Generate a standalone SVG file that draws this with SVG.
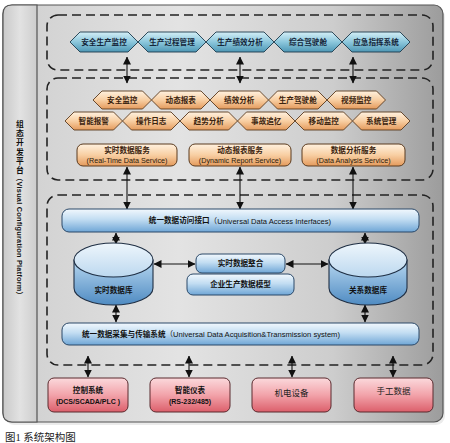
<svg xmlns="http://www.w3.org/2000/svg" width="450" height="443" viewBox="0 0 450 443">
<defs>
  <linearGradient id="bgMain" x1="0" y1="0" x2="1" y2="0">
    <stop offset="0" stop-color="#cfcfcf"/>
    <stop offset="0.4" stop-color="#e3e3e3"/>
    <stop offset="0.75" stop-color="#cdcdcd"/>
    <stop offset="1" stop-color="#9c9c9c"/>
  </linearGradient>
  <linearGradient id="bgLeft" x1="0" y1="0" x2="1" y2="0">
    <stop offset="0" stop-color="#c9c9c9"/>
    <stop offset="0.5" stop-color="#e2e2e2"/>
    <stop offset="1" stop-color="#cdcdcd"/>
  </linearGradient>
  <linearGradient id="gBlueHex" x1="0" y1="0" x2="0" y2="1">
    <stop offset="0" stop-color="#d3eef6"/>
    <stop offset="0.5" stop-color="#8cc7dc"/>
    <stop offset="1" stop-color="#4d97b5"/>
  </linearGradient>
  <linearGradient id="gOrange" x1="0" y1="0" x2="0" y2="1">
    <stop offset="0" stop-color="#fff1df"/>
    <stop offset="0.5" stop-color="#f8cfa3"/>
    <stop offset="1" stop-color="#e49a5c"/>
  </linearGradient>
  <linearGradient id="gBar" x1="0" y1="0" x2="0" y2="1">
    <stop offset="0" stop-color="#f2f8fd"/>
    <stop offset="0.45" stop-color="#c2ddf2"/>
    <stop offset="1" stop-color="#6fa6d6"/>
  </linearGradient>
  <linearGradient id="gCylBody" x1="0" y1="0" x2="0" y2="1">
    <stop offset="0" stop-color="#b7d7f0"/>
    <stop offset="1" stop-color="#4f8bc2"/>
  </linearGradient>
  <linearGradient id="gCylTop" x1="0" y1="0" x2="0" y2="1">
    <stop offset="0" stop-color="#eef6fc"/>
    <stop offset="1" stop-color="#bcd8ef"/>
  </linearGradient>
  <linearGradient id="gRed" x1="0" y1="0" x2="0" y2="1">
    <stop offset="0" stop-color="#fbd9dc"/>
    <stop offset="0.5" stop-color="#f2a3aa"/>
    <stop offset="1" stop-color="#dc5f6b"/>
  </linearGradient>
  <marker id="ah" viewBox="0 0 8 8" refX="7.5" refY="4" markerWidth="8" markerHeight="8" markerUnits="userSpaceOnUse" orient="auto-start-reverse">
    <path d="M0,0 L8,4 L0,8 Z" fill="#111"/>
  </marker>
</defs>
<style>
  .dash { fill: none; stroke: #222; stroke-width: 1.6; stroke-dasharray: 9 5; }
  .hexB { fill: url(#gBlueHex); stroke: #1d3a4c; stroke-width: 0.9; }
  .hexO { fill: url(#gOrange); stroke: #5a3a1e; stroke-width: 0.9; }
  .svc { fill: url(#gOrange); stroke: #5a3a1e; stroke-width: 1; }
  .bar { fill: url(#gBar); stroke: #2a4868; stroke-width: 1; }
  .red { fill: url(#gRed); stroke: #5a2a2e; stroke-width: 1; }
  .cylb { fill: url(#gCylBody); stroke: #1f2f44; stroke-width: 1.1; }
  .cylt { fill: url(#gCylTop); stroke: #1f2f44; stroke-width: 1.1; }
  .arr { stroke: #111; stroke-width: 1.1; fill: none; marker-start: url(#ah); marker-end: url(#ah); }
  .t { font-family: "Liberation Sans", "Noto Sans CJK SC", sans-serif; font-weight: bold; font-size: 7.6px; text-anchor: middle; dominant-baseline: central; }
  .tb { fill: #15263a; }
  .to { fill: #3a230e; }
  .tk { fill: #111; }
  .lat { font-weight: normal; }
  .tl { font-family: "Liberation Sans", "Noto Sans CJK SC", sans-serif; font-size: 7.2px; text-anchor: middle; dominant-baseline: central; fill: #2a1a0a; }
  .ts { font-family: "Liberation Serif", "Noto Sans CJK SC", serif; font-size: 8.5px; text-anchor: middle; dominant-baseline: central; fill: #222; }
</style>

<!-- frame -->
<g id="frame">
  <rect x="5" y="8" width="440" height="417" rx="9" fill="#000" opacity="0.08"/>
  <rect x="3" y="5" width="440" height="417" rx="9" fill="url(#bgMain)" stroke="#555" stroke-width="1.2"/>
  <path d="M37,5 L12,5 Q3,5 3,14 L3,413 Q3,422 12,422 L37,422 Z" fill="url(#bgLeft)" stroke="#555" stroke-width="1.2"/>
</g>

<g id="platform-label">
  <text x="19" y="120" class="t tk" style="writing-mode: vertical-rl; text-anchor: start; font-size:7.8px; letter-spacing:1.5px;">组态开发平台</text>
  <text transform="translate(19,174) rotate(90)" class="t tk" style="text-anchor:start; font-size:7.4px; letter-spacing:0.2px;">（Visual Configuration Platform）</text>
</g>

<!-- dashed layers -->
<g id="layers">
  <rect class="dash" x="47" y="15" width="386" height="55" rx="11"/>
  <rect class="dash" x="47" y="78" width="386" height="102" rx="11"/>
  <rect class="dash" x="47" y="195" width="386" height="170" rx="11"/>
</g>

<!-- connectors -->
<g id="connectors">
  <line class="arr" x1="127" y1="57" x2="127" y2="83"/>
  <line class="arr" x1="240" y1="57" x2="240" y2="83"/>
  <line class="arr" x1="353" y1="57" x2="353" y2="83"/>
  <line class="arr" x1="127" y1="167" x2="127" y2="209"/>
  <line class="arr" x1="240" y1="167" x2="240" y2="209"/>
  <line class="arr" x1="353" y1="167" x2="353" y2="209"/>
  <line class="arr" x1="116" y1="233" x2="116" y2="244"/>
  <line class="arr" x1="365" y1="233" x2="365" y2="244"/>
  <line class="arr" x1="116" y1="305" x2="116" y2="322"/>
  <line class="arr" x1="365" y1="305" x2="365" y2="322"/>
  <line class="arr" x1="154" y1="264" x2="195" y2="264"/>
  <line class="arr" x1="286" y1="264" x2="328" y2="264"/>
  <line class="arr" x1="88" y1="356" x2="88" y2="377"/>
  <line class="arr" x1="189" y1="356" x2="189" y2="377"/>
  <line class="arr" x1="292" y1="356" x2="292" y2="377"/>
  <line class="arr" x1="393" y1="356" x2="393" y2="377"/>
</g>

<!-- top application row -->
<g id="app-1"><polygon class="hexB" points="70,42 80,32 128,32 138,42 128,52 80,52"/><text class="t tb" x="104" y="42">安全生产监控</text></g>
<g id="app-2"><polygon class="hexB" points="138,42 148,32 196,32 206,42 196,52 148,52"/><text class="t tb" x="172" y="42">生产过程管理</text></g>
<g id="app-3"><polygon class="hexB" points="206,42 216,32 264,32 274,42 264,52 216,52"/><text class="t tb" x="240" y="42">生产绩效分析</text></g>
<g id="app-4"><polygon class="hexB" points="274,42 284,32 332,32 342,42 332,52 284,52"/><text class="t tb" x="308" y="42">综合驾驶舱</text></g>
<g id="app-5"><polygon class="hexB" points="342,42 352,32 400,32 410,42 400,52 352,52"/><text class="t tb" x="376" y="42">应急指挥系统</text></g>

<!-- function row 1 -->
<g id="fn-1"><polygon class="hexO" points="93,100 102,91 142.5,91 151.5,100 142.5,109 102,109"/><text class="t to" x="122.25" y="100">安全监控</text></g>
<g id="fn-2"><polygon class="hexO" points="151.5,100 160.5,91 201,91 210,100 201,109 160.5,109"/><text class="t to" x="180.75" y="100">动态报表</text></g>
<g id="fn-3"><polygon class="hexO" points="210,100 219,91 259.5,91 268.5,100 259.5,109 219,109"/><text class="t to" x="239.25" y="100">绩效分析</text></g>
<g id="fn-4"><polygon class="hexO" points="268.5,100 277.5,91 318,91 327,100 318,109 277.5,109"/><text class="t to" x="297.75" y="100">生产驾驶舱</text></g>
<g id="fn-5"><polygon class="hexO" points="327,100 336,91 376.5,91 385.5,100 376.5,109 336,109"/><text class="t to" x="356.25" y="100">视频监控</text></g>

<!-- function row 2 -->
<g id="fn-6"><polygon class="hexO" points="65,121 74,112 113.5,112 122.5,121 113.5,130 74,130"/><text class="t to" x="93.75" y="121">智能报警</text></g>
<g id="fn-7"><polygon class="hexO" points="122.5,121 131.5,112 171,112 180,121 171,130 131.5,130"/><text class="t to" x="151.25" y="121">操作日志</text></g>
<g id="fn-8"><polygon class="hexO" points="180,121 189,112 228.5,112 237.5,121 228.5,130 189,130"/><text class="t to" x="208.75" y="121">趋势分析</text></g>
<g id="fn-9"><polygon class="hexO" points="237.5,121 246.5,112 286,112 295,121 286,130 246.5,130"/><text class="t to" x="266.25" y="121">事故追忆</text></g>
<g id="fn-10"><polygon class="hexO" points="295,121 304,112 343.5,112 352.5,121 343.5,130 304,130"/><text class="t to" x="323.75" y="121">移动监控</text></g>
<g id="fn-11"><polygon class="hexO" points="352.5,121 361.5,112 401,112 410,121 401,130 361.5,130"/><text class="t to" x="381.25" y="121">系统管理</text></g>

<!-- services -->
<g id="svc-1"><rect class="svc" x="77" y="144" width="100" height="22" rx="6"/><text class="t to" x="127" y="150.5">实时数据服务</text><text class="tl" x="127" y="160">(Real-Time Data Service)</text></g>
<g id="svc-2"><rect class="svc" x="189" y="144" width="102" height="22" rx="6"/><text class="t to" x="240" y="150.5">动态报表服务</text><text class="tl" x="240" y="160">(Dynamic Report Service)</text></g>
<g id="svc-3"><rect class="svc" x="302" y="144" width="103" height="22" rx="6"/><text class="t to" x="353.5" y="150.5">数据分析服务</text><text class="tl" x="353.5" y="160">(Data Analysis Service)</text></g>

<!-- access interface -->
<g id="access-bar"><rect class="bar" x="62" y="209" width="357" height="23" rx="7"/><text class="t tk" x="240" y="220.5" style="font-size:7.6px;">统一数据访问接口<tspan class="lat">（Universal Data Access Interfaces)</tspan></text></g>

<!-- databases -->
<g id="rt-db">
  <path class="cylb" d="M74,260 L74,288 A39.5,17 0 0 0 153,288 L153,260 Z"/>
  <ellipse class="cylt" cx="113.5" cy="260" rx="39.5" ry="17"/>
  <text class="t tk" x="113.5" y="290">实时数据库</text>
</g>
<g id="rel-db">
  <path class="cylb" d="M329,260 L329,288 A39,17 0 0 0 407,288 L407,260 Z"/>
  <ellipse class="cylt" cx="368" cy="260" rx="39" ry="17"/>
  <text class="t tk" x="368" y="290">关系数据库</text>
</g>

<g id="integration"><rect class="bar" x="196" y="254" width="89" height="19" rx="6"/><text class="t tk" x="240.5" y="263.5">实时数据整合</text></g>
<g id="model"><rect class="bar" x="187" y="274" width="107" height="21" rx="6"/><text class="t tk" x="240.5" y="284.5">企业生产数据模型</text></g>

<!-- acquisition -->
<g id="acq-bar"><rect class="bar" x="62" y="323" width="357" height="22" rx="7"/><text class="t tk" x="82" y="334" style="text-anchor:start; font-size:7.6px;">统一数据采集与传输系统<tspan class="lat">（Universal Data Acquisition&amp;Transmission system)</tspan></text></g>

<!-- sources -->
<g id="src-1"><rect class="red" x="48" y="378" width="80" height="34" rx="6"/><text class="t tk" x="88" y="390">控制系统</text><text class="t tk" x="88" y="401" style="font-size:7px;">(DCS/SCADA/PLC )</text></g>
<g id="src-2"><rect class="red" x="150" y="378" width="80" height="34" rx="6"/><text class="t tk" x="190" y="390">智能仪表</text><text class="t tk" x="190" y="401" style="font-size:7px;">(RS-232/485)</text></g>
<g id="src-3"><rect class="red" x="252" y="378" width="79" height="34" rx="6"/><text class="ts" x="291.5" y="393">机电设备</text></g>
<g id="src-4"><rect class="red" x="354" y="378" width="79" height="34" rx="6"/><text class="ts" x="393.5" y="391">手工数据</text></g>

<text x="5" y="437" style="font-family:'Liberation Serif','Noto Sans CJK SC',serif; font-size:10.5px; dominant-baseline:central; fill:#222;">图1 系统架构图</text>
</svg>
